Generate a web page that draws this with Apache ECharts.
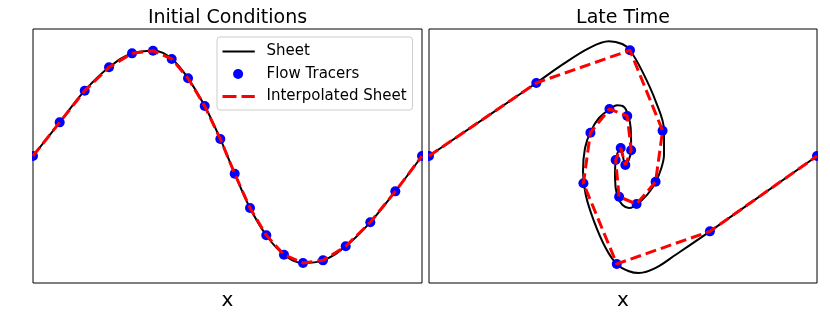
<!DOCTYPE html>
<html>
<head>
<meta charset="utf-8">
<script src="https://cdn.jsdelivr.net/npm/echarts@6/dist/echarts.min.js"></script>
<style>html,body{margin:0;padding:0;background:#fff}#c{width:830px;height:318px}</style>
</head>
<body>
<div id="c"></div>
<script>
// ---- Data ----
var panelTitles = ['Initial Conditions', 'Late Time'];
var seriesNames = ['Sheet', 'Flow Tracers', 'Interpolated Sheet'];
var xLabel = 'x';
var yLabel = 'v';

// Initial conditions: tracers (the sheet passes through them)
var initX = [0, 0.0686, 0.1329, 0.1954, 0.2545, 0.3085, 0.3566, 0.3985, 0.4414, 0.4815,
             0.5185, 0.5578, 0.5997, 0.6452, 0.6941, 0.7455, 0.8039, 0.8671, 0.9314, 1];
var initV = [0, 0.318, 0.617, 0.838, 0.970, 0.995, 0.917, 0.734, 0.472, 0.161,
             -0.167, -0.491, -0.749, -0.933, -1.011, -0.986, -0.853, -0.626, -0.334, 0];

// Late time: flow tracers
var lateTracerX = [0, 0.2765, 0.518, 0.602, 0.584, 0.535, 0.490, 0.481, 0.494,
                   0.506, 0.521, 0.511, 0.465, 0.416, 0.398, 0.484, 0.724, 1];
var lateTracerV = [0, 0.690, 0.999, 0.239, -0.243, -0.454, -0.385, -0.038, 0.076,
                   -0.085, 0.055, 0.378, 0.444, 0.220, -0.258, -1.020, -0.712, 0];

// Late time: sheet
var lateSheetX = [0, 0.2765, 0.3436, 0.4124, 0.4639, 0.4982, 0.518, 0.5497, 0.5843, 0.6057,
                  0.6057, 0.5928, 0.5755, 0.5497, 0.5155, 0.4982, 0.4853, 0.4794, 0.481, 0.494,
                  0.506, 0.521, 0.5198, 0.5129, 0.5026, 0.4853, 0.4639, 0.4381, 0.4168, 0.4021,
                  0.3969, 0.4039, 0.4253, 0.4554, 0.4838, 0.5155, 0.5412, 0.5843, 0.6358, 0.7242, 1];
var lateSheetV = [0, 0.690, 0.863, 1.020, 1.084, 1.058, 0.999, 0.800, 0.517, 0.243,
                  0.012, -0.177, -0.302, -0.413, -0.491, -0.460, -0.381, -0.208, -0.038, 0.076,
                  -0.085, 0.055, 0.265, 0.390, 0.463, 0.479, 0.437, 0.359, 0.233, 0.076,
                  -0.145, -0.366, -0.617, -0.869, -1.020, -1.089, -1.106, -1.058, -0.933, -0.712, 0];

function zip(xs, ys) { return xs.map(function (x, i) { return [x, ys[i]]; }); }

var FONT = 'DejaVu Sans';
var grids = [
  {left: 33, top: 29, width: 389, height: 254},
  {left: 429, top: 29, width: 388, height: 254}
];

function xAxis(i) {
  return {
    gridIndex: i, type: 'value', min: 0, max: 1,
    axisLine: {show: false}, axisTick: {show: false}, axisLabel: {show: false}, splitLine: {show: false},
    name: xLabel, nameLocation: 'middle', nameGap: 8,
    nameTextStyle: {fontFamily: FONT, fontSize: 20, color: '#000'}
  };
}
function yAxis(i, named) {
  return {
    gridIndex: i, type: 'value', min: -1.2, max: 1.2,
    axisLine: {show: false}, axisTick: {show: false}, axisLabel: {show: false}, splitLine: {show: false},
    name: named ? yLabel : '', nameLocation: 'middle', nameGap: 10, nameRotate: 90,
    nameTextStyle: {fontFamily: FONT, fontSize: 20, color: '#000'}
  };
}

function panelSeries(i, sheet, tracers, smoothSheet) {
  return [
    {name: seriesNames[0], type: 'line', xAxisIndex: i, yAxisIndex: i, data: sheet,
     smooth: smoothSheet, symbol: 'none', z: 2, lineStyle: {color: '#000', width: 2},
     itemStyle: {color: '#000'}},
    {name: seriesNames[1], type: 'scatter', xAxisIndex: i, yAxisIndex: i, data: tracers,
     symbol: 'circle', symbolSize: 10, z: 3, itemStyle: {color: '#0000ff', opacity: 1}},
    {name: seriesNames[2], type: 'line', xAxisIndex: i, yAxisIndex: i, data: tracers,
     smooth: false, symbol: 'none', z: 4,
     lineStyle: {color: '#ff0000', width: 3, type: [11, 5]}, itemStyle: {color: '#ff0000'}}
  ];
}

var initPts = zip(initX, initV);
var latePts = zip(lateTracerX, lateTracerV);
var lateSheet = zip(lateSheetX, lateSheetV);

// white masks so that markers on the frame are cut at the frame, as in the reference
var masks = [
  {x: 0, y: 20, w: 32, h: 275},
  {x: 423, y: 20, w: 5, h: 275},
  {x: 818, y: 20, w: 12, h: 275}
].map(function (m) {
  return {type: 'rect', z: 100, silent: true, shape: {x: m.x, y: m.y, width: m.w, height: m.h},
          style: {fill: '#fff'}};
});

// legend icons (39 x 10 boxes; the right part is empty space before the text)
var BOX = 'M0,0M39,10';
var iconLine = 'path://' + BOX + 'M0,4L32.3,4L32.3,6L0,6Z';
var iconDot = 'path://' + BOX + 'M10.6,5A5,5,0,1,1,20.6,5A5,5,0,1,1,10.6,5Z';
var iconDash = 'path://' + BOX + 'M0,3.5L14,3.5L14,6.5L0,6.5ZM19,3.5L32.3,3.5L32.3,6.5L19,6.5Z';

var option = {
  animation: false,
  backgroundColor: '#fff',
  textStyle: {fontFamily: FONT},
  title: panelTitles.map(function (t, i) {
    return {text: t, left: i === 0 ? 227.5 : 623, top: 8.5, padding: 0, textAlign: 'center',
            textStyle: {fontFamily: FONT, fontSize: 19, fontWeight: 'normal', color: '#000'}};
  }),
  grid: grids.map(function (g) {
    return Object.assign({show: true, borderColor: '#000', borderWidth: 1, backgroundColor: 'transparent', containLabel: false}, g);
  }),
  xAxis: [xAxis(0), xAxis(1)],
  yAxis: [yAxis(0, true), yAxis(1, false)],
  legend: {
    show: true,
    orient: 'vertical', left: 217, top: 37, z: 200,
    padding: [7, 6, 6, 5.5], itemGap: 7.5, itemWidth: 39, itemHeight: 10,
    backgroundColor: '#fff', borderColor: '#cccccc', borderWidth: 1, borderRadius: 3,
    textStyle: {fontFamily: FONT, fontSize: 15, color: '#000'},
    itemStyle: {borderWidth: 0},
    lineStyle: {width: 0},
    data: [
      {name: seriesNames[0], icon: iconLine, itemStyle: {color: '#000', borderWidth: 0}},
      {name: seriesNames[1], icon: iconDot, itemStyle: {color: '#0000ff', borderWidth: 0}},
      {name: seriesNames[2], icon: iconDash, itemStyle: {color: '#ff0000', borderWidth: 0}}
    ]
  },
  graphic: masks,
  series: [].concat(
    panelSeries(0, initPts, initPts, 0.4),
    panelSeries(1, lateSheet, latePts, 0.35)
  )
};

var chart = echarts.init(document.getElementById('c'), null, {renderer: 'canvas'});
chart.setOption(option);
</script>
</body>
</html>
